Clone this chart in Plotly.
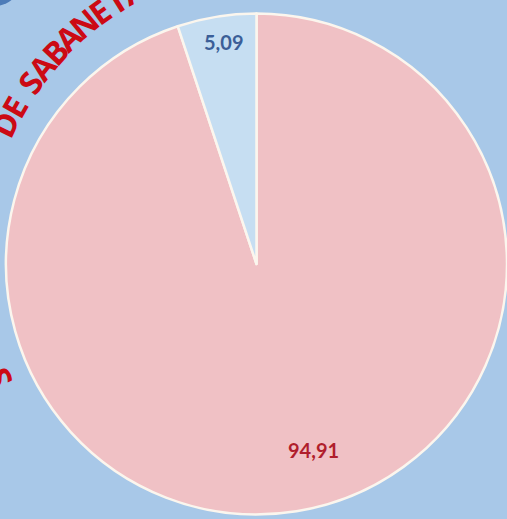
import math
import plotly.graph_objects as go

# ---- data ----
slice_labels = ["No", "Sí"]
slice_values = [94.91, 5.09]
slice_colors = ["#f0c1c5", "#c6def2"]
value_text_colors = ["#b01e2c", "#3b5e98"]
arc_text_left = "S"
arc_text_top = "DE SABANETA"

# ---- layout geometry (pixels) ----
W, H = 507, 519
ML, MR, MT, MB = 6, 0, 10, 1
PW, PH = W - ML - MR, H - MT - MB


def px_to_paper(px, py):
    return (px - ML) / PW, 1 - (py - MT) / PH


fig = go.Figure()
fig.add_trace(go.Pie(
    labels=slice_labels,
    values=slice_values,
    sort=False,
    direction="clockwise",
    rotation=0,
    textinfo="none",
    hoverinfo="label+value",
    marker=dict(colors=slice_colors, line=dict(color="#fbf6ee", width=2.5)),
    showlegend=False,
))

annotations = []
# value labels
label_pos = [(313, 450), (223, 42)]
for v, c, (px, py) in zip(slice_values, value_text_colors, label_pos):
    x, y = px_to_paper(px, py)
    annotations.append(dict(
        x=x, y=y, xref="paper", yref="paper", showarrow=False,
        text=f"{v:.2f}".replace(".", ","),
        font=dict(family="Lato", size=20, color=c, weight=700),
        xanchor="center", yanchor="middle",
    ))

# curved title letters on a circle around the pie
TCX, TCY = 275, 255
R_ARC = 300
STEP = 3.8


def place_letters(text, start_deg, radius):
    ang = start_deg
    for ch in text:
        if ch != " ":
            t = math.radians(ang)
            px = TCX + radius * math.cos(t)
            py = TCY + radius * math.sin(t)
            x, y = px_to_paper(px, py)
            rot = ang + 90
            while rot > 180:
                rot -= 360
            while rot < -180:
                rot += 360
            annotations.append(dict(
                x=x, y=y, xref="paper", yref="paper", showarrow=False,
                text=ch, textangle=rot,
                font=dict(family="Open Sans", size=32, color="#cc0a14", weight=700),
                xanchor="center", yanchor="middle",
            ))
            ang += STEP
        else:
            ang += STEP * 0.45


place_letters(arc_text_top, 205.9, R_ARC)
place_letters(arc_text_left, 156.0, 303)

fig.update_layout(
    width=W, height=H,
    margin=dict(l=ML, r=MR, t=MT, b=MB),
    paper_bgcolor="#a8c8e8",
    plot_bgcolor="#a8c8e8",
    annotations=annotations,
    shapes=[dict(
        type="circle", xref="paper", yref="paper",
        x0=px_to_paper(-35, 0)[0], x1=px_to_paper(25, 0)[0],
        y0=px_to_paper(0, -66)[1], y1=px_to_paper(0, 6)[1],
        fillcolor="#4d7cb8", line=dict(width=0), layer="below",
    )],
)

fig.write_html(
    "out.html",
    config={"displayModeBar": False},
    post_script="document.body.style.margin='0';document.body.style.overflow='hidden';",
)
